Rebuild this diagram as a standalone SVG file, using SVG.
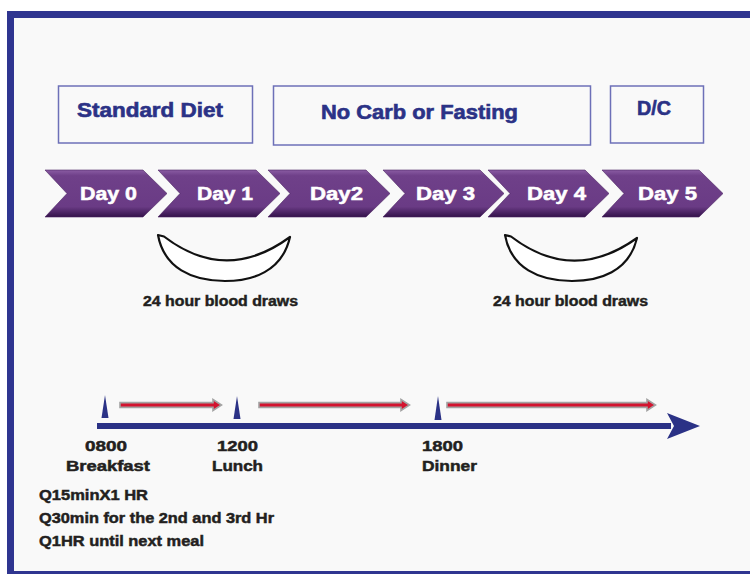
<svg xmlns="http://www.w3.org/2000/svg" width="750" height="574" viewBox="0 0 750 574">
<defs>
<linearGradient id="chev" x1="0" y1="0" x2="0" y2="1">
<stop offset="0" stop-color="#8a5ca3"/>
<stop offset="0.12" stop-color="#6f4089"/>
<stop offset="0.78" stop-color="#6a3b85"/>
<stop offset="1" stop-color="#34124a"/>
</linearGradient>
<style>
.hdr{fill:none;stroke:#6d70b8;stroke-width:1.5}
.hdrt{font-family:"Liberation Sans",Arial,sans-serif;font-weight:bold;font-size:19.5px;fill:#2b3286;stroke:#2b3286;stroke-width:0.6}
.chev{fill:url(#chev);stroke:#4b2462;stroke-width:0.6}
.dayt{font-family:"Liberation Sans",Arial,sans-serif;font-weight:bold;font-size:18px;fill:#ffffff;stroke:#ffffff;stroke-width:0.5}
.smile{fill:#ffffff;stroke:#111111;stroke-width:2.2;stroke-linejoin:round}
.lbl{font-family:"Liberation Sans",Arial,sans-serif;font-weight:bold;font-size:14px;fill:#231f20;stroke:#231f20;stroke-width:0.45}
.tl{font-family:"Liberation Sans",Arial,sans-serif;font-weight:bold;font-size:15.5px;fill:#231f20;stroke:#231f20;stroke-width:0.5}
.tick{fill:#2b3286}
.red{fill:#d3132f;stroke:#a3a3a3;stroke-width:1.6;stroke-linejoin:miter}
</style>
</defs>
<rect x="0" y="0" width="750" height="574" fill="#ffffff"/>
<rect x="14" y="18" width="736" height="553" fill="#f9f9f9"/>
<g id="frame" fill="#2f3590">
<rect x="7" y="11" width="743" height="7"/>
<rect x="7" y="11" width="7" height="563"/>
<rect x="7" y="571" width="743" height="3"/>
</g>

<g id="standard-diet">
<rect class="hdr" x="58.5" y="86" width="194" height="57"/>
<text class="hdrt" x="77" y="117" textLength="146" lengthAdjust="spacingAndGlyphs">Standard Diet</text>
</g>
<g id="no-carb">
<rect class="hdr" x="273.5" y="86" width="317" height="59"/>
<text class="hdrt" x="321" y="119" textLength="197" lengthAdjust="spacingAndGlyphs">No Carb or Fasting</text>
</g>
<g id="dc">
<rect class="hdr" x="610.5" y="86" width="93" height="57"/>
<text class="hdrt" x="637" y="115" textLength="34" lengthAdjust="spacingAndGlyphs">D/C</text>
</g>

<g id="day0">
<polygon class="chev" points="45,170 143,170 167,193.5 143,217 45,217 67,193.5"/>
<text class="dayt" x="80" y="200" textLength="57" lengthAdjust="spacingAndGlyphs">Day 0</text>
</g>
<g id="day1">
<polygon class="chev" points="158,170 256,170 280,193.5 256,217 158,217 180,193.5"/>
<text class="dayt" x="197" y="200" textLength="56" lengthAdjust="spacingAndGlyphs">Day 1</text>
</g>
<g id="day2">
<polygon class="chev" points="268,170 366,170 390,193.5 366,217 268,217 290,193.5"/>
<text class="dayt" x="310" y="200" textLength="53" lengthAdjust="spacingAndGlyphs">Day2</text>
</g>
<g id="day3">
<polygon class="chev" points="383,170 480,170 504,193.5 480,217 383,217 405,193.5"/>
<text class="dayt" x="416" y="200" textLength="59" lengthAdjust="spacingAndGlyphs">Day 3</text>
</g>
<g id="day4">
<polygon class="chev" points="488,170 585,170 609,193.5 585,217 488,217 510,193.5"/>
<text class="dayt" x="527" y="200" textLength="59" lengthAdjust="spacingAndGlyphs">Day 4</text>
</g>
<g id="day5">
<polygon class="chev" points="602,170 699,170 723,193.5 699,217 602,217 624,193.5"/>
<text class="dayt" x="638" y="200" textLength="59" lengthAdjust="spacingAndGlyphs">Day 5</text>
</g>

<g id="draws1">
<path class="smile" d="M158,235 L164,236.5 Q226,284 290,237 C282,272 252,281 225,281 C192,281 164,268 158,235 Z"/>
<text class="lbl" x="143" y="306" textLength="155" lengthAdjust="spacingAndGlyphs">24 hour blood draws</text>
</g>
<g id="draws2">
<path class="smile" d="M505,235 L511,236.5 Q573,284 637,238 C629,272 599,281 572,281 C539,281 511,268 505,235 Z"/>
<text class="lbl" x="493" y="306" textLength="155" lengthAdjust="spacingAndGlyphs">24 hour blood draws</text>
</g>

<g id="connectors">
<rect x="97" y="423" width="574" height="6" fill="#2b3286"/>
<polygon points="667,413 700,426 667,439 674,426" fill="#2b3286"/>
<path class="red" d="M120,402.6 L213,402.6 L213,399.5 L221.5,405 L213,410.5 L213,407.4 L120,407.4 Z"/>
<path class="red" d="M259,402.6 L401,402.6 L401,399.5 L409.5,405 L401,410.5 L401,407.4 L259,407.4 Z"/>
<path class="red" d="M447,402.6 L647,402.6 L647,399.5 L655.5,405 L647,410.5 L647,407.4 L447,407.4 Z"/>
</g>

<g id="t0800">
<polygon class="tick" points="105,395 101.5,418 108.5,418"/>
<text class="tl" x="106" y="451" text-anchor="middle" textLength="42" lengthAdjust="spacingAndGlyphs">0800</text>
<text class="tl" x="108" y="471" text-anchor="middle" textLength="84" lengthAdjust="spacingAndGlyphs">Breakfast</text>
</g>
<g id="t1200">
<polygon class="tick" points="237,396 233.5,419 240.5,419"/>
<text class="tl" x="237.5" y="451" text-anchor="middle" textLength="41" lengthAdjust="spacingAndGlyphs">1200</text>
<text class="tl" x="237.5" y="471" text-anchor="middle" textLength="51" lengthAdjust="spacingAndGlyphs">Lunch</text>
</g>
<g id="t1800">
<polygon class="tick" points="438,396 434.5,420 441.5,420"/>
<text class="tl" x="422" y="451" textLength="41" lengthAdjust="spacingAndGlyphs">1800</text>
<text class="tl" x="422" y="471" textLength="55" lengthAdjust="spacingAndGlyphs">Dinner</text>
</g>

<g id="notes">
<text class="tl" x="39" y="500" textLength="109" lengthAdjust="spacingAndGlyphs">Q15minX1 HR</text>
<text class="tl" x="39" y="523" textLength="235" lengthAdjust="spacingAndGlyphs">Q30min for the 2nd and 3rd Hr</text>
<text class="tl" x="39" y="546" textLength="165" lengthAdjust="spacingAndGlyphs">Q1HR until next meal</text>
</g>
</svg>
